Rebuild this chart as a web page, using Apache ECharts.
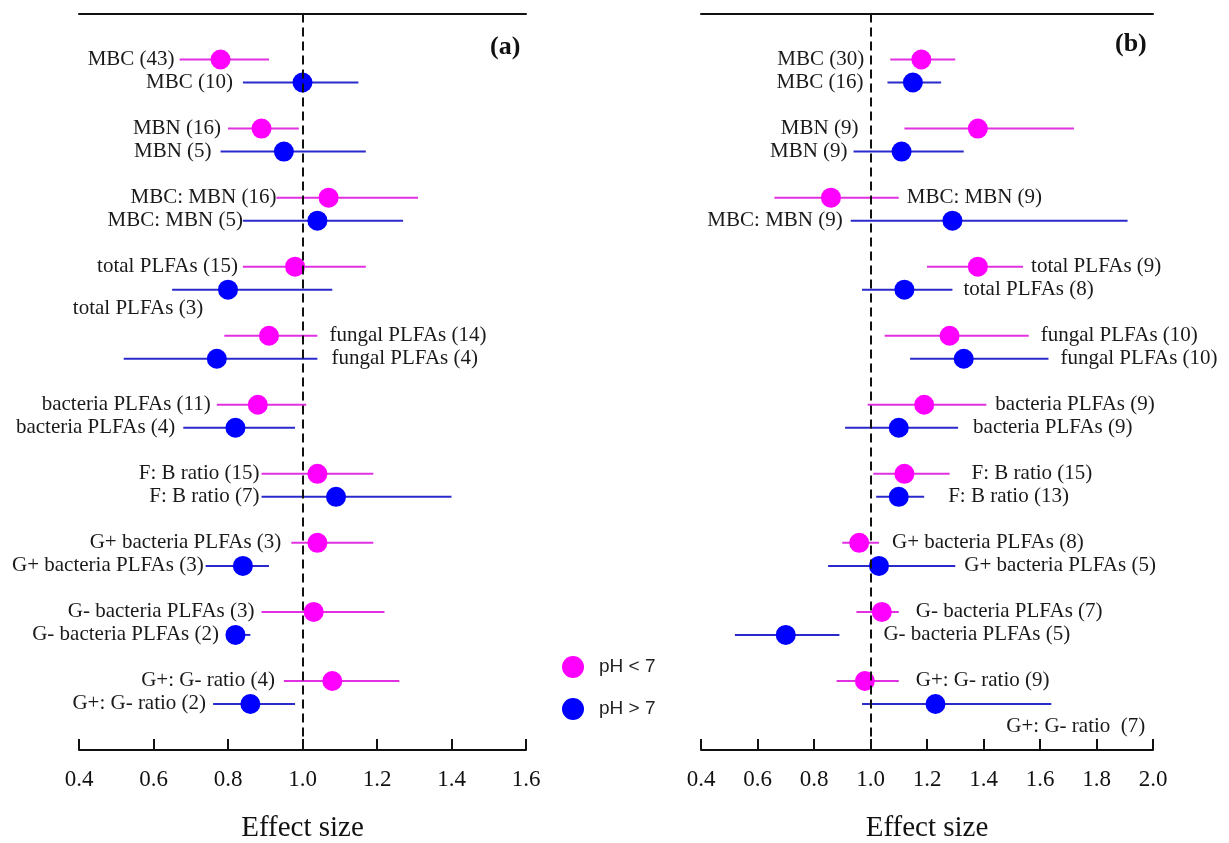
<!DOCTYPE html>
<html style="height: 100%">
<head>
	<meta charset="utf-8">
</head>
<body style="height: 100%; margin: 0; background: #fff">
<div id="container" style="width: 1229px; height: 843px"></div>
<script type="text/javascript" src="https://cdn.jsdelivr.net/npm/echarts@6/dist/echarts.min.js"></script>
<script type="text/javascript">
    // variables, same order in both panels
    var categories = ['MBC', 'MBN', 'MBC: MBN', 'total PLFAs', 'fungal PLFAs', 'bacteria PLFAs',
        'F: B ratio', 'G+ bacteria PLFAs', 'G- bacteria PLFAs', 'G+: G- ratio'];
    var xTicks = [0.4, 0.6, 0.8, 1.0, 1.2, 1.4, 1.6, 1.8, 2.0];

    // panel (a)
    var nAcidA = [43, 16, 16, 15, 14, 11, 15, 3, 3, 4];
    var meanAcidA = [0.78, 0.89, 1.07, 0.98, 0.91, 0.88, 1.04, 1.04, 1.03, 1.08];
    var loAcidA = [0.67, 0.80, 0.93, 0.84, 0.79, 0.77, 0.89, 0.97, 0.89, 0.95];
    var hiAcidA = [0.91, 0.99, 1.31, 1.17, 1.04, 1.01, 1.19, 1.19, 1.22, 1.26];
    var nAlkA = [10, 5, 5, 3, 4, 4, 7, 3, 2, 2];
    var meanAlkA = [1.00, 0.95, 1.04, 0.80, 0.77, 0.82, 1.09, 0.84, 0.82, 0.86];
    var loAlkA = [0.84, 0.78, 0.84, 0.65, 0.52, 0.68, 0.89, 0.74, 0.80, 0.76];
    var hiAlkA = [1.15, 1.17, 1.27, 1.08, 1.04, 0.98, 1.40, 0.91, 0.86, 0.98];

    // panel (b)
    var nAcidB = [30, 9, 9, 9, 10, 9, 15, 8, 7, 9];
    var meanAcidB = [1.18, 1.38, 0.86, 1.38, 1.28, 1.19, 1.12, 0.96, 1.04, 0.98];
    var loAcidB = [1.07, 1.12, 0.66, 1.20, 1.05, 0.99, 1.01, 0.90, 0.95, 0.88];
    var hiAcidB = [1.30, 1.72, 1.10, 1.54, 1.56, 1.41, 1.28, 1.03, 1.10, 1.10];
    var nAlkB = [16, 9, 9, 8, 10, 9, 13, 5, 5, 7];
    var meanAlkB = [1.15, 1.11, 1.29, 1.12, 1.33, 1.10, 1.10, 1.03, 0.70, 1.23];
    var loAlkB = [1.06, 0.94, 0.93, 0.97, 1.14, 0.91, 1.02, 0.85, 0.52, 0.97];
    var hiAlkB = [1.25, 1.33, 1.91, 1.29, 1.63, 1.31, 1.19, 1.30, 0.89, 1.64];

    // where each label sits: [align, anchor end, dx, dy]
    var layAcidA = [['right','lo',-5,0], ['right','lo',-7,0], ['right','lo',0,0], ['right','lo',-5,0], ['left','hi',12,0],
        ['right','lo',-6,0], ['right','lo',-2,0], ['right','lo',-10,0], ['right','lo',-7,0], ['right','lo',-9,0]];
    var layAlkA = [['right','lo',-10,0], ['right','lo',-9,0], ['right','lo',0,0], ['right','lo',31,19], ['left','hi',14,0],
        ['right','lo',-8,0], ['right','lo',-2,0], ['right','lo',-2,0], ['right','lo',-9,0], ['right','lo',-7,0]];
    var layAcidB = [['right','lo',-26,0], ['right','lo',-46,0], ['left','hi',8,0], ['left','hi',8,0], ['left','hi',12,0],
        ['left','hi',9,0], ['left','hi',22,0], ['left','hi',13,0], ['left','hi',17,0], ['left','hi',17,0]];
    var layAlkB = [['right','lo',-24,0], ['right','lo',-6,0], ['right','lo',-8,0], ['left','hi',11,0], ['left','hi',12,0],
        ['left','hi',15,0], ['left','hi',24,0], ['left','hi',9,0], ['left','hi',44,0], ['right','hi',94,23]];

    var PINK = '#ff00ff', PINK_LINE = '#e030e0';
    var BLUE = '#0000ff', BLUE_LINE = '#2a2acc';
    var SERIF = '"Liberation Serif", "Times New Roman", serif';

    function labelsOf(n) {
        return categories.map(function (c, i) { return c + ' (' + n[i] + ')'; });
    }
    var labAlkB = labelsOf(nAlkB);
    labAlkB[9] = 'G+: G- ratio  (7)';

    function rows(lo, hi, mean, shift) {
        return mean.map(function (m, i) { return [lo[i], hi[i], m, i * 3 + shift]; });
    }

    function makeRender(layout, labels, lineColor, dotColor) {
        return function (params, api) {
            var i = params.dataIndex;
            var lo = api.coord([api.value(0), api.value(3)]);
            var hi = api.coord([api.value(1), api.value(3)]);
            var mid = api.coord([api.value(2), api.value(3)]);
            var L = layout[i];
            var a = L[1] === 'lo' ? lo : hi;
            return {
                type: 'group',
                children: [
                    {type: 'line', shape: {x1: lo[0], y1: lo[1], x2: hi[0], y2: hi[1]},
                        style: {stroke: lineColor, lineWidth: 2}},
                    {type: 'circle', shape: {cx: mid[0], cy: mid[1], r: 10}, style: {fill: dotColor}},
                    {type: 'text', x: a[0] + L[2], y: a[1] + L[3],
                        style: {text: labels[i], align: L[0], verticalAlign: 'middle',
                            font: '21px ' + SERIF, fill: '#1a1a1a'}}
                ]
            };
        };
    }

    function bottomAxis(grid, max) {
        return {
            type: 'value', gridIndex: grid, position: 'bottom', min: 0.4, max: max, interval: 0.2,
            name: 'Effect size', nameLocation: 'middle', nameGap: 64,
            nameTextStyle: {fontFamily: SERIF, fontSize: 29, color: '#111'},
            axisLine: {onZero: false, lineStyle: {color: '#111', width: 2}},
            axisTick: {inside: true, length: 11, lineStyle: {color: '#111', width: 2}},
            axisLabel: {margin: 18, fontFamily: SERIF, fontSize: 23, color: '#111',
                formatter: function (v) { return v.toFixed(1); }},
            splitLine: {show: false}
        };
    }
    function topAxis(grid, max) {
        return {
            type: 'value', gridIndex: grid, position: 'top', min: 0.4, max: max, interval: 0.2,
            axisLine: {onZero: false, lineStyle: {color: '#111', width: 2}},
            axisTick: {show: false}, axisLabel: {show: false}, splitLine: {show: false}
        };
    }
    function hiddenY(grid) {
        return {type: 'value', gridIndex: grid, inverse: true, min: -2, max: 30, show: false};
    }

    var refLine = {
        silent: true, symbol: ['none', 'none'], label: {show: false},
        lineStyle: {color: '#111', type: [9, 5], width: 2},
        data: [{xAxis: 1}]
    };

    function forest(name, xi, yi, data, layout, labels, lineColor, dotColor, withRef) {
        var s = {
            name: name, type: 'custom', xAxisIndex: xi, yAxisIndex: yi,
            renderItem: makeRender(layout, labels, lineColor, dotColor),
            itemStyle: {color: dotColor},
            encode: {x: [0, 1, 2], y: 3},
            data: data, z: 3
        };
        if (withRef) s.markLine = refLine;
        return s;
    }

    var myChart = echarts.init(document.getElementById('container'));
    var option = {
        backgroundColor: '#fff',
        animation: false,
        grid: [
            {left: 79, top: 13.5, width: 447, height: 736.5, outerBoundsMode: 'none', containLabel: false},
            {left: 701, top: 13.5, width: 452, height: 736.5, outerBoundsMode: 'none', containLabel: false}
        ],
        xAxis: [bottomAxis(0, 1.6), topAxis(0, 1.6), bottomAxis(1, 2.0), topAxis(1, 2.0)],
        yAxis: [hiddenY(0), hiddenY(1)],
        legend: {
            data: ['pH < 7', 'pH > 7'], orient: 'vertical', left: 557, top: 651,
            icon: 'circle', itemWidth: 22, itemHeight: 22, itemGap: 20,
            textStyle: {fontFamily: '"Liberation Sans", Arial, sans-serif', fontSize: 19, color: '#222',
                padding: [0, 0, 0, 10]}
        },
        graphic: [
            {type: 'text', left: 490, top: 34, style: {text: '(a)', font: 'bold 26px ' + SERIF, fill: '#111'}},
            {type: 'text', left: 1115, top: 31, style: {text: '(b)', font: 'bold 26px ' + SERIF, fill: '#111'}}
        ],
        series: [
            forest('pH < 7', 0, 0, rows(loAcidA, hiAcidA, meanAcidA, 0), layAcidA, labelsOf(nAcidA), PINK_LINE, PINK, true),
            forest('pH > 7', 0, 0, rows(loAlkA, hiAlkA, meanAlkA, 1), layAlkA, labelsOf(nAlkA), BLUE_LINE, BLUE, false),
            forest('pH < 7', 2, 1, rows(loAcidB, hiAcidB, meanAcidB, 0), layAcidB, labelsOf(nAcidB), PINK_LINE, PINK, true),
            forest('pH > 7', 2, 1, rows(loAlkB, hiAlkB, meanAlkB, 1), layAlkB, labAlkB, BLUE_LINE, BLUE, false)
        ]
    };
    myChart.setOption(option, true);
</script>
</body>
</html>
